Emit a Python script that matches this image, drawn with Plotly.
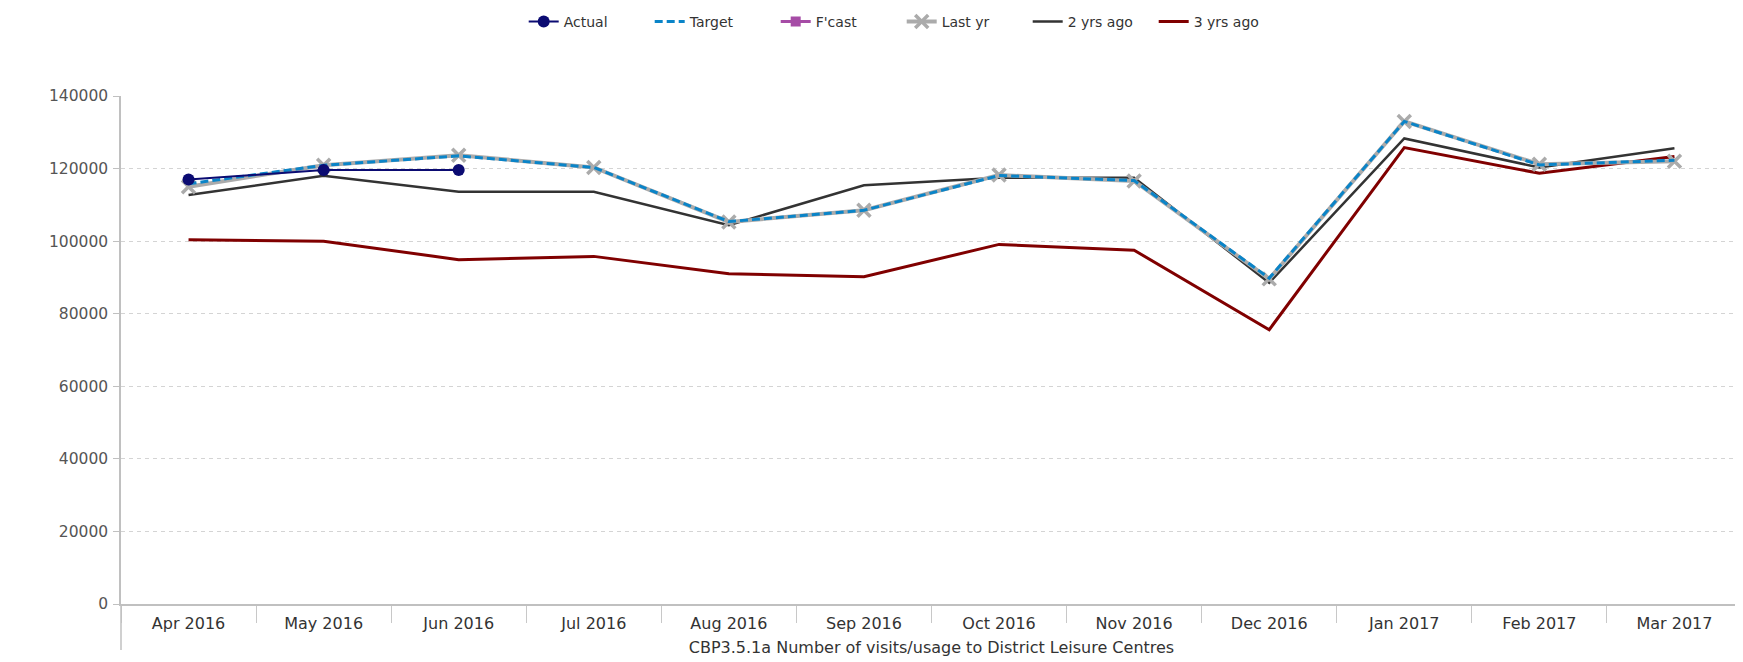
import plotly.graph_objects as go

months = ["Apr 2016", "May 2016", "Jun 2016", "Jul 2016", "Aug 2016", "Sep 2016",
          "Oct 2016", "Nov 2016", "Dec 2016", "Jan 2017", "Feb 2017", "Mar 2017"]
actual = [117000, 119600, 119600, None, None, None, None, None, None, None, None, None]
target = [115800, 120900, 123500, 120300, 105400, 108500, 118100, 116700, 89800, 133000, 121000, 122300]
fcast = [None] * 12
last_yr = [115000, 120900, 123700, 120300, 105300, 108500, 118200, 116600, 89600, 133000, 121200, 122000]
two_yrs = [112700, 118000, 113600, 113600, 104400, 115400, 117500, 117500, 88500, 128300, 120300, 125600]
three_yrs = [100400, 100000, 94900, 95800, 91000, 90200, 99100, 97500, 75600, 125800, 118700, 123300]
y_ticks = [0, 20000, 40000, 60000, 80000, 100000, 120000, 140000]
x_title = "CBP3.5.1a Number of visits/usage to District Leisure Centres"

FONT = "DejaVu Sans"
W, H = 1735, 654
fig = go.Figure()

fig.add_trace(go.Scatter(x=months, y=three_yrs, name="3 yrs ago", mode="lines",
                         line=dict(color="#800000", width=3), legendrank=6))
fig.add_trace(go.Scatter(x=months, y=two_yrs, name="2 yrs ago", mode="lines",
                         line=dict(color="#333333", width=2.5), legendrank=5))
fig.add_trace(go.Scatter(x=months, y=last_yr, name="Last yr", mode="lines+markers",
                         line=dict(color="#ababab", width=4),
                         marker=dict(symbol="x-thin", size=13, color="#ababab",
                                     line=dict(color="#ababab", width=3.5)),
                         legendrank=4))
fig.add_trace(go.Scatter(x=months, y=target, name="Target", mode="lines",
                         line=dict(color="#0a84c8", width=3, dash="8px,4px"), legendrank=2))
fig.add_trace(go.Scatter(x=months, y=fcast, name="F'cast", mode="lines+markers",
                         line=dict(color="#a64ca6", width=3),
                         marker=dict(symbol="square", size=10, color="#a64ca6"),
                         legendrank=3))
fig.add_trace(go.Scatter(x=months, y=actual, name="Actual", mode="lines+markers",
                         line=dict(color="#0b0b72", width=2),
                         marker=dict(symbol="circle", size=12, color="#0b0b72"),
                         legendrank=1))

fig.update_layout(
    width=W, height=H,
    margin=dict(l=113, r=1, t=88, b=57.5),
    paper_bgcolor="white", plot_bgcolor="white",
    font=dict(family=FONT, size=14, color="#333333"),
    showlegend=True,
    legend=dict(orientation="h", xref="container", yref="container",
                x=515.7 / W, y=1 - 14 / H, xanchor="left", yanchor="middle",
                font=dict(family=FONT, size=14, color="#333333"),
                entrywidth=81, entrywidthmode="pixels",
                bgcolor="rgba(0,0,0,0)"),
    xaxis=dict(type="category", categoryorder="array", categoryarray=months,
               showgrid=False, showline=True, linecolor="#c0c0c0", linewidth=2,
               ticks="outside", tickson="boundaries", ticklen=17, tickcolor="#c8c8c8",
               ticklabelstandoff=4,
               tickfont=dict(family=FONT, size=16, color="#333333"),
               title=dict(text=x_title, font=dict(family=FONT, size=16, color="#333333"),
                          standoff=10),
               range=[-0.5, 11.5], fixedrange=True),
    yaxis=dict(range=[0, 140000], tickvals=y_ticks, ticktext=[str(v) for v in y_ticks],
               showgrid=True, gridcolor="#d4d4d4", griddash="4px,4px", gridwidth=1,
               zeroline=False, showline=True, linecolor="#c0c0c0", linewidth=1.5,
               ticks="outside", ticklen=6, tickcolor="#c0c0c0", ticklabelstandoff=2,
               tickfont=dict(family=FONT, size=15.5, color="#555555")),
)

fig.add_shape(type="line", xref="paper", yref="paper", x0=0, x1=0, y0=0,
              y1=-46 / 508.5, line=dict(color="#c0c0c0", width=1.5))

fig.write_html("out.html")
